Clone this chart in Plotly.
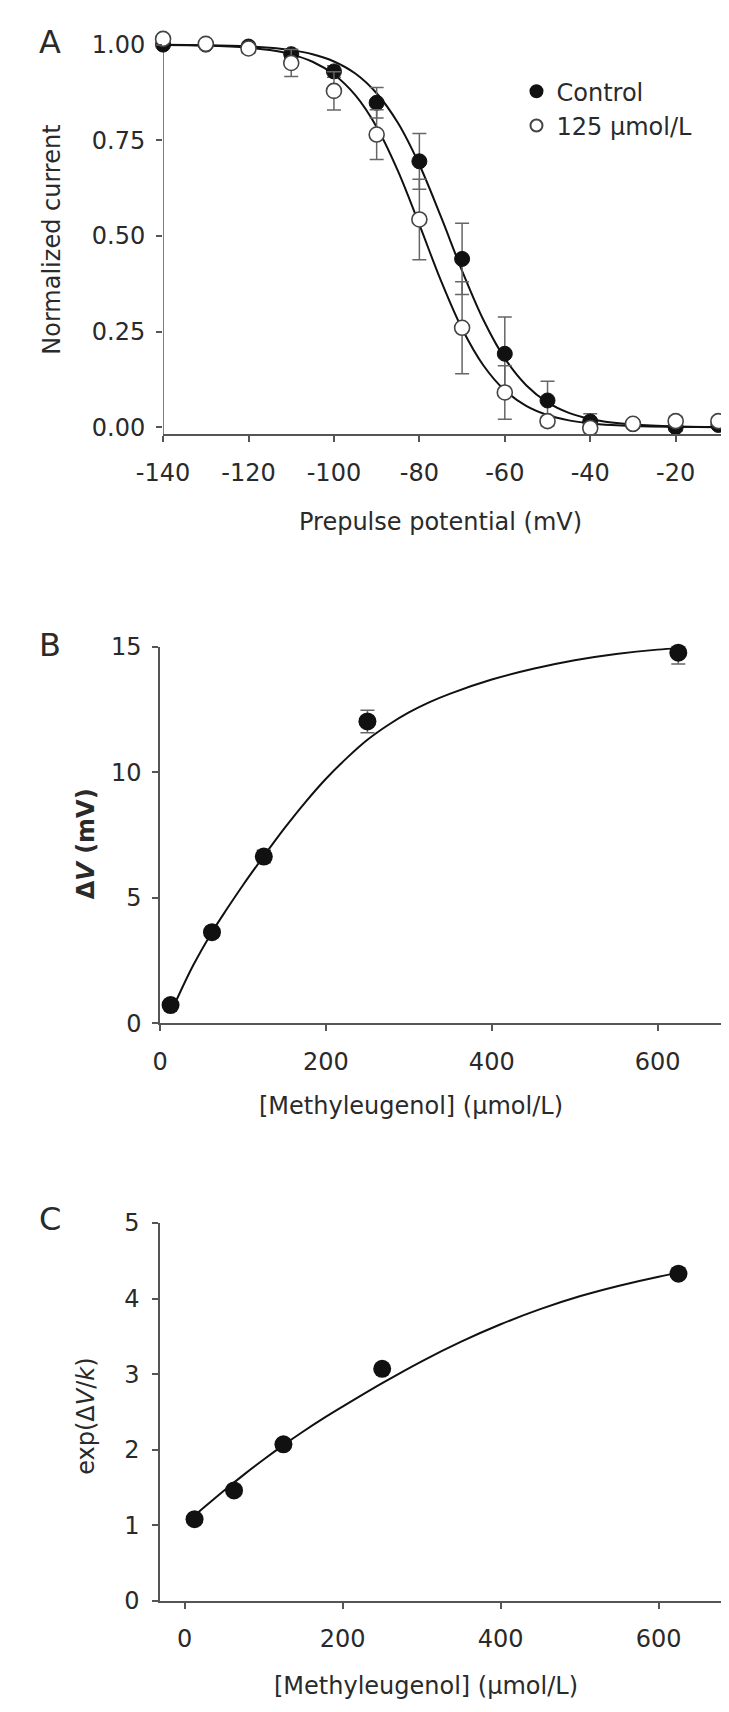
import plotly.graph_objects as go

W, H = 729, 1712

# ---------------- Panel A data ----------------
volt = [-140, -130, -120, -110, -100, -90, -80, -70, -60, -50, -40, -30, -20, -10]
ctrl_y = [1.00, 1.00, 0.995, 0.975, 0.930, 0.848, 0.695, 0.440, 0.192, 0.070, 0.015, 0.008, 0.000, 0.006]
ctrl_err = [0.005, 0.005, 0.008, 0.012, 0.015, 0.040, 0.073, 0.093, 0.096, 0.050, 0.020, 0.010, 0.010, 0.008]
drug_y = [1.015, 1.002, 0.990, 0.952, 0.879, 0.765, 0.543, 0.260, 0.091, 0.016, -0.002, 0.009, 0.016, 0.016]
drug_err = [0.005, 0.006, 0.012, 0.035, 0.050, 0.065, 0.105, 0.120, 0.070, 0.012, 0.012, 0.010, 0.012, 0.010]

fit_v = [-140, -130, -120, -115, -110, -105, -100, -95, -90, -85, -80, -75, -70, -65,
         -60, -55, -50, -45, -40, -35, -30, -20, -10]
ctrl_fit = [0.9995, 0.9985, 0.9954, 0.9918, 0.9856, 0.9748, 0.956, 0.9246, 0.873, 0.795,
            0.686, 0.5516, 0.409, 0.2804, 0.180, 0.110, 0.065, 0.0376, 0.0216, 0.0122,
            0.0069, 0.0022, 0.0007]
drug_fit = [0.9992, 0.9975, 0.992, 0.9857, 0.9746, 0.9552, 0.922, 0.868, 0.785, 0.6695,
            0.5294, 0.3845, 0.2575, 0.1615, 0.0966, 0.056, 0.032, 0.018, 0.010, 0.0056,
            0.0031, 0.001, 0.0003]

x_ticks_A = [-140, -120, -100, -80, -60, -40, -20]
x_ticktext_A = ["-140", "-120", "-100", "-80", "-60", "-40", "-20"]
y_ticks_A = [0.0, 0.25, 0.5, 0.75, 1.0]
y_ticktext_A = ["0.00", "0.25", "0.50", "0.75", "1.00"]
legend_names = ["Control", "125 µmol/L"]

# ---------------- Panel B data ----------------
conc = [12.5, 62.5, 125, 250, 625]
dv = [0.73, 3.63, 6.64, 12.02, 14.76]
dv_err = [0.12, 0.2, 0.25, 0.45, 0.45]
fitB_x = [20, 40, 62.5, 80, 100, 125, 150, 175, 200, 225, 250, 275, 300, 325, 350, 400,
          450, 500, 550, 600, 625]
fitB_y = [0.95, 2.32, 3.63, 4.53, 5.51, 6.66, 7.77, 8.80, 9.74, 10.56, 11.29, 11.88, 12.38,
          12.79, 13.13, 13.69, 14.12, 14.46, 14.71, 14.88, 14.93]
x_ticks_BC = [0, 200, 400, 600]
y_ticks_B = [0, 5, 10, 15]

# ---------------- Panel C data ----------------
expdv = [1.08, 1.46, 2.07, 3.07, 4.33]
fitC_x = [14, 25, 50, 75, 100, 125, 150, 175, 200, 250, 300, 350, 400, 450, 500,
          550, 600, 625]
fitC_y = [1.14, 1.24, 1.46, 1.67, 1.87, 2.06, 2.24, 2.41, 2.57, 2.88, 3.17, 3.43, 3.66,
          3.86, 4.03, 4.17, 4.29, 4.34]
y_ticks_C = [0, 1, 2, 3, 4, 5]

FONT = "DejaVu Sans"
TXT = "#2a2a2a"
AX = "#555555"
FS = 24

fig = go.Figure()

# Panel A
fig.add_trace(go.Scatter(x=fit_v, y=ctrl_fit, mode="lines", line=dict(color="#111", width=2, shape="spline"),
                         showlegend=False, xaxis="x", yaxis="y", hoverinfo="skip"))
fig.add_trace(go.Scatter(x=fit_v, y=drug_fit, mode="lines", line=dict(color="#111", width=2, shape="spline"),
                         showlegend=False, xaxis="x", yaxis="y", hoverinfo="skip"))
fig.add_trace(go.Scatter(x=volt, y=ctrl_y, mode="markers", name=legend_names[0],
                         marker=dict(size=15, color="#111", line=dict(color="#111", width=1)),
                         error_y=dict(type="data", array=ctrl_err, color="#666", thickness=1.5, width=7),
                         cliponaxis=False, xaxis="x", yaxis="y"))
fig.add_trace(go.Scatter(x=volt, y=drug_y, mode="markers", name=legend_names[1],
                         marker=dict(size=15, color="white", line=dict(color="#444", width=1.6)),
                         error_y=dict(type="data", array=drug_err, color="#666", thickness=1.5, width=7),
                         cliponaxis=False, xaxis="x", yaxis="y"))

# Panel B
fig.add_trace(go.Scatter(x=fitB_x, y=fitB_y, mode="lines", line=dict(color="#111", width=2, shape="spline"),
                         showlegend=False, xaxis="x2", yaxis="y2", hoverinfo="skip"))
fig.add_trace(go.Scatter(x=conc, y=dv, mode="markers", showlegend=False,
                         marker=dict(size=18, color="#111"),
                         error_y=dict(type="data", array=dv_err, color="#666", thickness=1.5, width=7),
                         cliponaxis=False, xaxis="x2", yaxis="y2"))

# Panel C
fig.add_trace(go.Scatter(x=fitC_x, y=fitC_y, mode="lines", line=dict(color="#111", width=2, shape="spline"),
                         showlegend=False, xaxis="x3", yaxis="y3", hoverinfo="skip"))
fig.add_trace(go.Scatter(x=conc, y=expdv, mode="markers", showlegend=False,
                         marker=dict(size=18, color="#111"),
                         cliponaxis=False, xaxis="x3", yaxis="y3"))


def px_x(p):
    return p / W


def px_y(p):
    return 1 - p / H


axis_common = dict(linecolor=AX, linewidth=1.5, ticks="outside", ticklen=6,
                   tickcolor=AX, tickwidth=1.5, showgrid=False, zeroline=False,
                   tickfont=dict(family=FONT, size=FS, color=TXT), fixedrange=True)

# Panel A y scale: 1.00 at 23 px, -0.018 at 419 px; range top extended so the
# -140 mV open circle (slightly above 1.00) stays visible.
A_top_val = 1.03
A_ppu = (419 - 23) / 1.018
A_top_px = 23 - (A_top_val - 1.0) * A_ppu

fig.update_layout(
    width=W, height=H, margin=dict(l=0, r=0, t=0, b=0),
    paper_bgcolor="white", plot_bgcolor="white",
    font=dict(family=FONT, size=FS, color=TXT),
    showlegend=True,
    legend=dict(x=px_x(500), y=px_y(48), xanchor="left", yanchor="top",
                bgcolor="rgba(0,0,0,0)", font=dict(family=FONT, size=FS, color=TXT),
                tracegroupgap=0, itemsizing="constant"),
    xaxis=dict(domain=[px_x(133), px_x(715)], range=[-140, -8.8], tickvals=x_ticks_A,
               ticktext=x_ticktext_A, anchor="y", ticklabelstandoff=10, showline=True,
               **axis_common),
    yaxis=dict(domain=[px_y(419), px_y(A_top_px)], range=[-0.018, A_top_val], tickvals=y_ticks_A,
               ticktext=y_ticktext_A, anchor="x", ticklabelstandoff=6, showline=False,
               **axis_common),
    xaxis2=dict(domain=[px_x(130), px_x(724)], range=[0, 690], tickvals=x_ticks_BC,
                anchor="y2", ticklabelstandoff=10, showline=True, **axis_common),
    yaxis2=dict(domain=[px_y(1018), px_y(635)], range=[0, 15], tickvals=y_ticks_B,
                anchor="x2", ticklabelstandoff=6, showline=True, **axis_common),
    xaxis3=dict(domain=[px_x(130), px_x(724)], range=[-31, 693], tickvals=x_ticks_BC,
                anchor="y3", ticklabelstandoff=10, showline=True, **axis_common),
    yaxis3=dict(domain=[px_y(1605), px_y(1221)], range=[0, 5], tickvals=y_ticks_C,
                anchor="x3", ticklabelstandoff=8, showline=True, **axis_common),
    shapes=[dict(type="line", xref="x", yref="y", x0=-140, x1=-140, y0=-0.018, y1=1.0,
                 line=dict(color=AX, width=1.5), layer="below")],
)

ann = []


def add_text(text, x, y, size=FS, angle=0):
    ann.append(dict(text=text, x=px_x(x), y=px_y(y), xref="paper", yref="paper",
                    xanchor="center", yanchor="middle", showarrow=False, textangle=angle,
                    font=dict(family=FONT, size=size, color=TXT)))


# panel letters
add_text("A", 16, 20, size=32)
add_text("B", 16, 633, size=32)
add_text("C", 16, 1217, size=32)
# axis titles
add_text("Normalized current", 18, 221, angle=-90)
add_text("Prepulse potential (mV)", 421, 508)
add_text("<b>Δ<i>V</i> (mV)</b>", 53, 836, angle=-90)
add_text("[Methyleugenol] (µmol/L)", 390, 1102)
add_text("exp(Δ<i>V</i>/<i>k</i>)", 53, 1418, angle=-90)
add_text("[Methyleugenol] (µmol/L)", 406, 1692)

fig.update_layout(annotations=ann)

fig.write_html("out.html")
